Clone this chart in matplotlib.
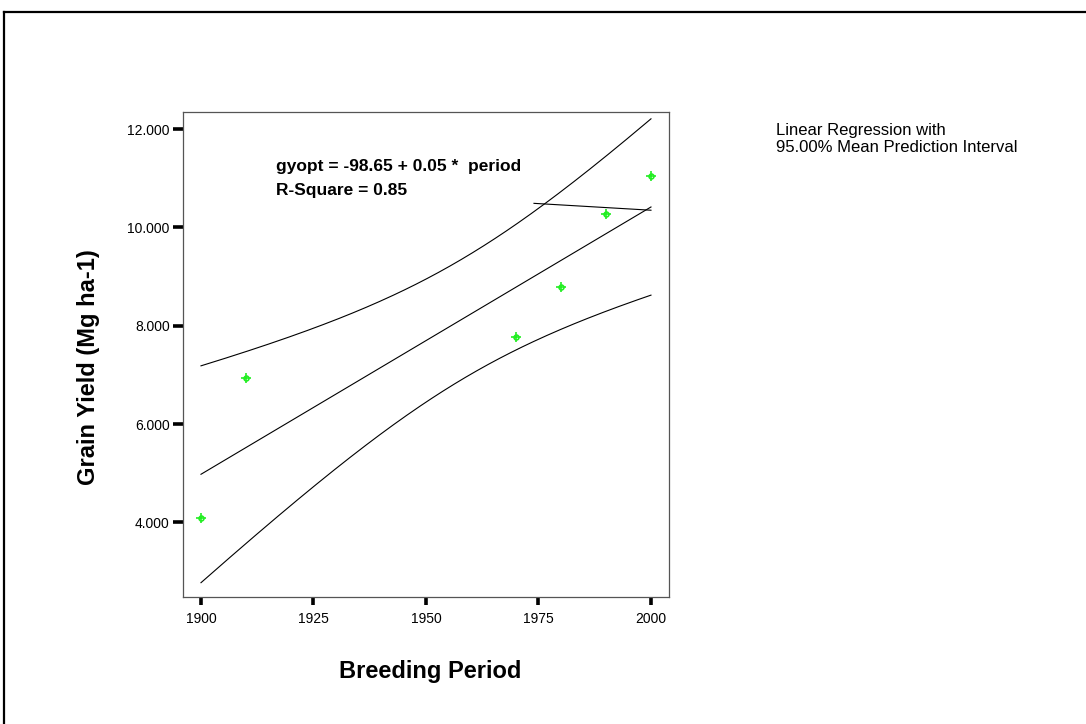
import numpy as np
import matplotlib
matplotlib.use("Agg")
import matplotlib.pyplot as plt
from matplotlib.lines import Line2D

plt.rcParams["font.family"] = ["Liberation Sans", "DejaVu Sans"]

# breeding period means
period = [1900, 1910, 1970, 1980, 1990, 2000]
gyopt = [4.08, 6.93, 7.78, 8.78, 10.28, 11.05]

x_ticks = [1900, 1925, 1950, 1975, 2000]
y_ticks = [4, 6, 8, 10, 12]

# leftover segment drawn by the original software
stray_x = [1974, 2000]
stray_y = [10.49, 10.35]

eq_text = "gyopt = -98.65 + 0.05 *  period"
r2_text = "R-Square = 0.85"
legend_lines = ["Linear Regression with", "95.00% Mean Prediction Interval"]

# linear fit with 95% confidence band for the mean
x = np.array(period, dtype=float)
y = np.array(gyopt)
n = len(x)
slope, intercept = np.polyfit(x, y, 1)
resid = y - (intercept + slope * x)
s = np.sqrt(np.sum(resid ** 2) / (n - 2))
sxx = np.sum((x - x.mean()) ** 2)
t_crit = 2.776  # t(0.975, df=4)
xs = np.linspace(min(period), max(period), 200)
fit = intercept + slope * xs
half = t_crit * s * np.sqrt(1 / n + (xs - x.mean()) ** 2 / sxx)

fig = plt.figure(figsize=(10.86, 7.24), dpi=100)
ax = fig.add_axes([0.1685, 0.1754, 0.4475, 0.67])

ax.plot(xs, fit, color="black", lw=0.8)
ax.plot(xs, fit + half, color="black", lw=0.8)
ax.plot(xs, fit - half, color="black", lw=0.8)
ax.plot(stray_x, stray_y, color="black", lw=0.8)

ax.plot(period, gyopt, ls="none", marker="o", ms=3.5, mfc="none",
        mec="#22ee22", mew=1.2)
ax.plot(period, gyopt, ls="none", marker="+", ms=7, mec="#22ee22", mew=1.2)

ax.set_xlim(1896, 2004)
ax.set_ylim(2.48, 12.35)
ax.set_xticks(x_ticks)
ax.set_yticks(y_ticks)
ax.set_yticklabels([f"{v:.3f}" for v in y_ticks])

for sp in ax.spines.values():
    sp.set_color("#555555")
    sp.set_linewidth(0.9)
ax.tick_params(axis="x", length=5.5, width=2.6, color="black",
               labelsize=10, pad=5)
ax.tick_params(axis="y", length=7.5, width=2.6, color="black",
               labelsize=10, pad=2)

ax.set_xlabel("Breeding Period", fontsize=17, fontweight="bold")
ax.set_ylabel("Grain Yield (Mg ha-1)", fontsize=17, fontweight="bold")
ax.xaxis.set_label_coords(0.508, -0.13)
ax.yaxis.set_label_coords(-0.171, 0.474)

ax.text(0.191, 0.887, eq_text, transform=ax.transAxes, fontsize=12.5,
        fontweight="bold", va="center", ha="left")
ax.text(0.191, 0.839, r2_text, transform=ax.transAxes, fontsize=12.5,
        fontweight="bold", va="center", ha="left")

fig.text(776 / 1086, 1 - 131 / 724, legend_lines[0], fontsize=12,
         va="center", ha="left")
fig.text(776 / 1086, 1 - 148 / 724, legend_lines[1], fontsize=12,
         va="center", ha="left")

# outer frame (top and left edges)
fig.add_artist(Line2D([4 / 1086, 1], [1 - 12 / 724, 1 - 12 / 724],
                      transform=fig.transFigure, color="black", lw=1.6))
fig.add_artist(Line2D([4 / 1086, 4 / 1086], [0, 1 - 12 / 724],
                      transform=fig.transFigure, color="black", lw=1.6))

fig.savefig("out.png", dpi=100)
